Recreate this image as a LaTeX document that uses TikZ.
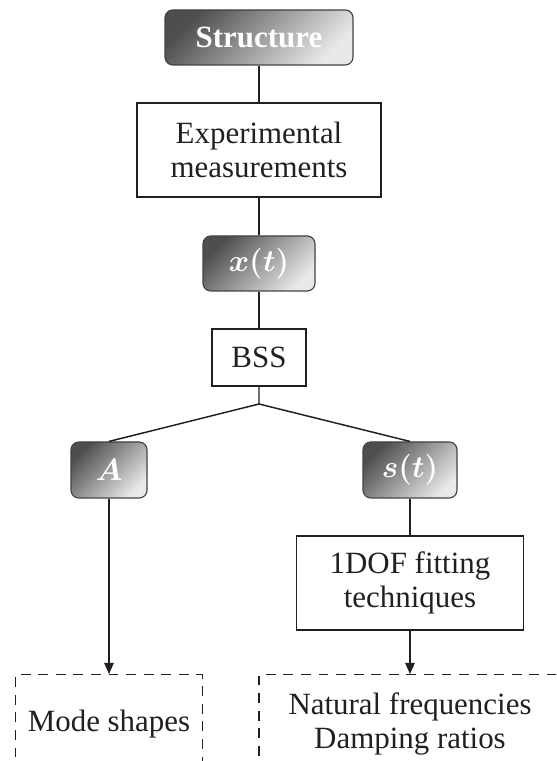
\RequirePackage{fix-cm}
\documentclass[tikz,border=0pt]{standalone}
\usepackage{bm}
\usepackage{fontspec}
\setmainfont{Liberation Serif}
\newfontfamily\boxfont{Liberation Serif}
\usetikzlibrary{arrows.meta}
\definecolor{ink}{HTML}{231F20}
\definecolor{shadedark}{HTML}{4E4E4E}
\definecolor{shadelight}{HTML}{E8E8E8}

\begin{document}
\begin{tikzpicture}[every node/.style={font=\boxfont\fontsize{22}{24}\selectfont,text=ink,align=center,inner sep=0pt},plain/.style={draw=ink,line width=1.05pt},shaded/.style={draw=ink!85,line width=.8pt,rounded corners=5.5pt,top color=shadedark,bottom color=shadelight,shading angle=45,text=white},result/.style={draw=ink,line width=1.05pt,dash pattern=on 7pt off 5.5pt,minimum height=2.45cm,anchor=north},link/.style={ink,line width=1.05pt},arrow/.style={ink,line width=1.05pt,-{Triangle[length=2.8mm,width=2.4mm]}}]
\clip (0,0) rectangle (13.9,19.025);
% chain down the middle
\node[shaded,minimum width=4.7cm,minimum height=1.375cm] (structure) at (6.475,18.0875){\textbf{Structure}};
\node[plain,minimum width=6.1cm,minimum height=2.35cm] (measure) at (6.475,15.275){Experimental\\measurements};
\node[shaded,minimum width=2.8cm,minimum height=1.375cm] (signals) at (6.475,12.4375){$\bm{x(t)}$};
\node[plain,minimum width=2.35cm,minimum height=1.425cm] (bss) at (6.475,10.0875){BSS};\coordinate (split) at (6.475,8.925);
% the two branches
\node[shaded,minimum width=1.9cm,minimum height=1.4cm] (mixing) at (2.725,7.275){$\bm{A}$};
\node[shaded,minimum width=2.35cm,minimum height=1.4cm] (sources) at (10.25,7.275){$\bm{s(t)}$};
\node[plain,minimum width=5.675cm,minimum height=2.35cm] (fitting) at (10.25,4.45){1DOF fitting\\techniques};
\node[result,minimum width=4.675cm] (modes) at (2.725,2.175){Mode shapes};
\node[result,minimum width=7.55cm] (modal) at (10.25,2.175){Natural frequencies\\Damping ratios};
\draw[link] (structure)--(measure);\draw[link] (measure)--(signals);\draw[link] (signals)--(bss);
\draw[link] (bss)--(split)--(mixing.north);\draw[link] (split)--(sources.north);
\draw[arrow] (mixing)--(modes);\draw[link] (sources)--(fitting);\draw[arrow] (fitting)--(modal);
\end{tikzpicture}
\end{document}
